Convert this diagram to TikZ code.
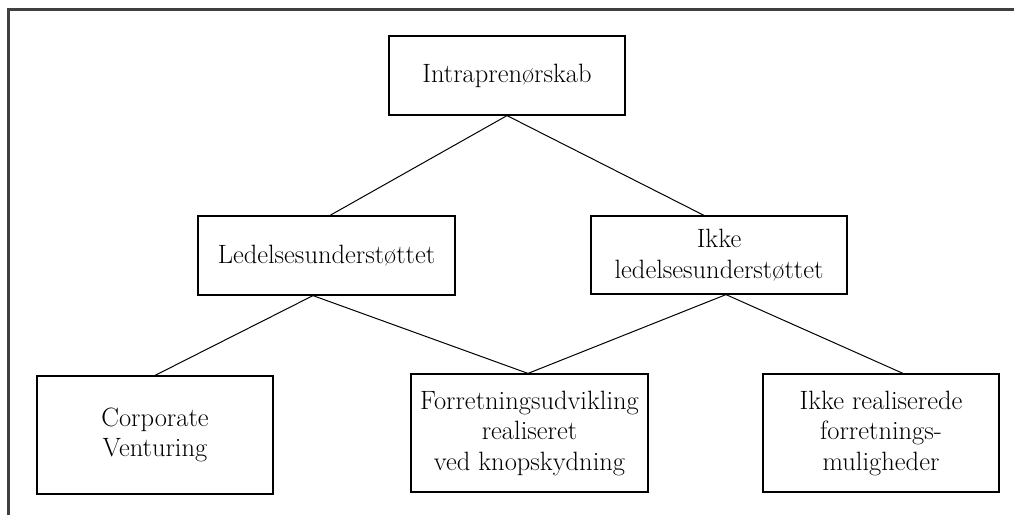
\documentclass[tikz,border=0pt]{standalone}
\begin{document}
\begin{tikzpicture}[x=1pt,y=-1pt,
  box/.style={draw=black,line width=1.2pt,inner sep=0pt,align=center,
    font=\fontsize{26.5}{30.5}\selectfont},
  link/.style={draw=black,line width=1pt},
  frame/.style={draw=black!75,line width=2.2pt}]
\useasboundingbox (0,0) rectangle (1014,515);
\coordinate (fb) at (8.5,515);
\coordinate (fc) at (8.5,9.5);
\coordinate (fr) at (1014,9.5);
\draw[frame] (fb) -- (fc) -- (fr);

\node[box,minimum width=236pt,minimum height=79pt] (A) at (507,75.5) {Intraprenørskab};
\node[box,minimum width=257pt,minimum height=79pt] (B) at (326.5,255.5) {Ledelsesunderstøttet};
\node[box,minimum width=256pt,minimum height=78pt] (C) at (719,255) {Ikke\\ledelsesunderstøttet};
\node[box,minimum width=236pt,minimum height=118pt] (D) at (155,435) {Corporate\\Venturing};
\node[box,minimum width=237pt,minimum height=118pt] (F) at (529.5,433) {Forretningsudvikling\\realiseret\\ved knopskydning};
\node[box,minimum width=236pt,minimum height=118pt] (E) at (881,433) {Ikke realiserede\\forretnings-\\muligheder};

\draw[link] (A.south) -- ([xshift=3.5pt]B.north);
\draw[link] (A.south) -- ([xshift=-15pt]C.north);
\draw[link] ([xshift=-13.5pt]B.south) -- (D.north);
\draw[link] ([xshift=-13.5pt]B.south) -- ([xshift=-1.5pt]F.north);
\draw[link] ([xshift=7pt]C.south) -- ([xshift=-1.5pt]F.north);
\draw[link] ([xshift=7pt]C.south) -- ([xshift=22pt]E.north);
\end{tikzpicture}
\end{document}
